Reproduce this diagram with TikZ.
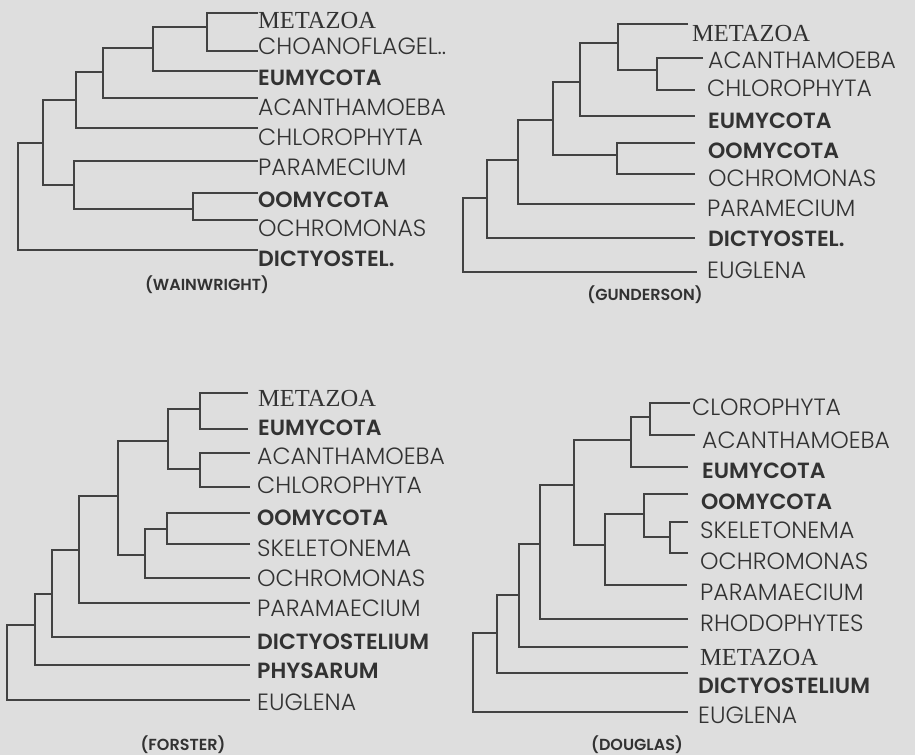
\documentclass[tikz,border=0pt]{standalone}
\usepackage{fontspec}
\newfontfamily\lt{Poppins Light}
\newfontfamily\bd{Poppins SemiBold}
\newfontfamily\sr{Liberation Serif}
\definecolor{bgc}{RGB}{222,222,222}
\definecolor{linec}{RGB}{66,66,66}
\definecolor{textc}{RGB}{50,50,50}
\tikzset{
  br/.style={draw=linec, line width=1.8pt},
  lab/.style={anchor=base west, inner sep=0pt, text=textc, font=\lt\fontsize{23.5}{26}\selectfont},
  blab/.style={lab, font=\bd\fontsize{22}{25}\selectfont},
  slab/.style={lab, font=\sr\fontsize{24.5}{27}\selectfont},
  capt/.style={anchor=center, inner sep=0pt, text=textc, font=\bd\fontsize{16}{18}\selectfont},
}
% leaf: name, x line end, y line, x text, y text centre, style, text
\newcommand\leaf[7]{\coordinate (#1) at (#2,#3); \node[#6] (#1t) at (#4,#5+8) {#7};}
% join: parent, child1, child2
\newcommand\jn[3]{\draw[br] (#2) -| (#1) |- (#3);}
\begin{document}
\begin{tikzpicture}[x=1pt,y=-1pt]
\path[fill=bgc] (0,0) rectangle (915,755);
\useasboundingbox (0,0) rectangle (915,755);

% ---------------- Panel A: Wainwright
\leaf{Amet}{258}{13}{258}{20}{slab}{METAZOA}
\leaf{Acho}{258}{51}{258}{46}{lab}{CHOANOFLAGEL..}
\leaf{Aeum}{258}{71}{258}{77}{blab}{EUMYCOTA}
\leaf{Aaca}{258}{98}{258}{107}{lab}{ACANTHAMOEBA}
\leaf{Achl}{258}{128}{258}{137}{lab}{CHLOROPHYTA}
\leaf{Apar}{258}{161}{258}{167}{lab}{PARAMECIUM}
\leaf{Aoom}{258}{193}{258}{199}{blab}{OOMYCOTA}
\leaf{Aoch}{258}{220}{258}{228}{lab}{OCHROMONAS}
\leaf{Adic}{258}{250}{258}{258}{blab}{DICTYOSTEL.}
\coordinate (An1) at (207,27);
\coordinate (An2) at (153,48);
\coordinate (An3) at (103,72);
\coordinate (An4) at (76,100);
\coordinate (An6) at (193,209);
\coordinate (An5) at (74,185);
\coordinate (An7) at (43,143);
\coordinate (Art) at (18,200);
\jn{An1}{Amet}{Acho}
\jn{An2}{An1}{Aeum}
\jn{An3}{An2}{Aaca}
\jn{An4}{An3}{Achl}
\jn{An6}{Aoom}{Aoch}
\jn{An5}{Apar}{An6}
\jn{An7}{An4}{An5}
\jn{Art}{An7}{Adic}
\node[capt] (Acap) at (207,285) {(WAINWRIGHT)};

% ---------------- Panel B: Gunderson
\leaf{Bmet}{688}{24}{692}{33}{slab}{METAZOA}
\leaf{Baca}{703}{58}{708}{60}{lab}{ACANTHAMOEBA}
\leaf{Bchl}{695}{90}{707}{88}{lab}{CHLOROPHYTA}
\leaf{Beum}{695}{116}{708}{120}{blab}{EUMYCOTA}
\leaf{Boom}{695}{143}{708}{150}{blab}{OOMYCOTA}
\leaf{Boch}{695}{174}{708}{178}{lab}{OCHROMONAS}
\leaf{Bpar}{695}{204}{707}{208}{lab}{PARAMECIUM}
\leaf{Bdic}{695}{238}{708}{238}{blab}{DICTYOSTEL.}
\leaf{Beug}{697}{272}{707}{270}{lab}{EUGLENA}
\coordinate (Ba) at (657,70);
\coordinate (Bb) at (618,43);
\coordinate (Bc) at (580,82);
\coordinate (Bd) at (617,155);
\coordinate (Be) at (553,120);
\coordinate (Bf) at (518,160);
\coordinate (Bg) at (487,198);
\coordinate (Brt) at (463,235);
\jn{Ba}{Baca}{Bchl}
\jn{Bb}{Bmet}{Ba}
\jn{Bc}{Bb}{Beum}
\jn{Bd}{Boom}{Boch}
\jn{Be}{Bc}{Bd}
\jn{Bf}{Be}{Bpar}
\jn{Bg}{Bf}{Bdic}
\jn{Brt}{Bg}{Beug}
\node[capt] (Bcap) at (645,295) {(GUNDERSON)};

% ---------------- Panel C: Forster
\leaf{Cmet}{248}{393}{258}{398}{slab}{METAZOA}
\leaf{Ceum}{248}{429}{258}{427}{blab}{EUMYCOTA}
\leaf{Caca}{250}{453}{257}{456}{lab}{ACANTHAMOEBA}
\leaf{Cchl}{250}{487}{257}{485}{lab}{CHLOROPHYTA}
\leaf{Coom}{250}{513}{257}{517}{blab}{OOMYCOTA}
\leaf{Cske}{250}{544}{257}{548}{lab}{SKELETONEMA}
\leaf{Coch}{250}{578}{257}{578}{lab}{OCHROMONAS}
\leaf{Cpar}{250}{603}{257}{608}{lab}{PARAMAECIUM}
\leaf{Cdic}{250}{637}{257}{641}{blab}{DICTYOSTELIUM}
\leaf{Cphy}{250}{665}{257}{670}{blab}{PHYSARUM}
\leaf{Ceug}{250}{700}{257}{702}{lab}{EUGLENA}
\coordinate (Ca) at (200,409);
\coordinate (Cb) at (200,469);
\coordinate (Cc) at (168,441);
\coordinate (Cd) at (167,529);
\coordinate (Ce) at (145,555);
\coordinate (Cf) at (118,496);
\coordinate (Cg) at (79,550);
\coordinate (Ch) at (52,594);
\coordinate (Ci) at (35,625);
\coordinate (Crt) at (7,660);
\jn{Ca}{Cmet}{Ceum}
\jn{Cb}{Caca}{Cchl}
\jn{Cc}{Ca}{Cb}
\jn{Cd}{Coom}{Cske}
\jn{Ce}{Cd}{Coch}
\jn{Cf}{Cc}{Ce}
\jn{Cg}{Cf}{Cpar}
\jn{Ch}{Cg}{Cdic}
\jn{Ci}{Ch}{Cphy}
\jn{Crt}{Ci}{Ceug}
\node[capt] (Ccap) at (183,745) {(FORSTER)};

% ---------------- Panel D: Douglas
\leaf{Dclo}{690}{403}{692}{407}{lab}{CLOROPHYTA}
\leaf{Daca}{695}{435}{702}{440}{lab}{ACANTHAMOEBA}
\leaf{Deum}{688}{467}{702}{470}{blab}{EUMYCOTA}
\leaf{Doom}{688}{494}{701}{501}{blab}{OOMYCOTA}
\leaf{Dske}{688}{522}{700}{530}{lab}{SKELETONEMA}
\leaf{Doch}{688}{553}{700}{561}{lab}{OCHROMONAS}
\leaf{Dpar}{687}{585}{700}{592}{lab}{PARAMAECIUM}
\leaf{Drho}{688}{619}{700}{623}{lab}{RHODOPHYTES}
\leaf{Dmet}{688}{647}{700}{657}{slab}{METAZOA}
\leaf{Ddic}{688}{673}{698}{685}{blab}{DICTYOSTELIUM}
\leaf{Deug}{688}{712}{698}{715}{lab}{EUGLENA}
\coordinate (Da) at (650,417);
\coordinate (Db) at (631,440);
\coordinate (Dc) at (670,537);
\coordinate (Dd) at (644,514);
\coordinate (De) at (605,545);
\coordinate (Df) at (574,485);
\coordinate (Dg) at (540,544);
\coordinate (Dh) at (519,595);
\coordinate (Di) at (497,633);
\coordinate (Drt) at (473,680);
\jn{Da}{Dclo}{Daca}
\jn{Db}{Da}{Deum}
\jn{Dc}{Dske}{Doch}
\jn{Dd}{Doom}{Dc}
\jn{De}{Dd}{Dpar}
\jn{Df}{Db}{De}
\jn{Dg}{Df}{Drho}
\jn{Dh}{Dg}{Dmet}
\jn{Di}{Dh}{Ddic}
\jn{Drt}{Di}{Deug}
\node[capt] (Dcap) at (637,745) {(DOUGLAS)};
\end{tikzpicture}
\end{document}
